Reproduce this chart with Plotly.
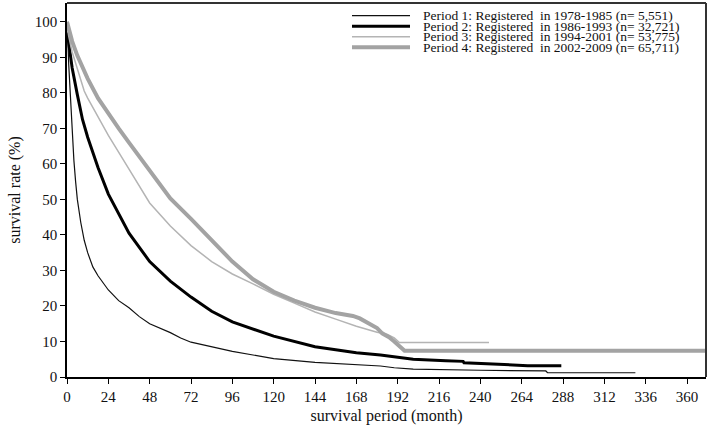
import plotly.graph_objects as go

# ---- data ----
p1_month = [0, 0.5, 1, 2, 2.5, 3, 4, 5, 6, 8, 10, 12, 15, 18, 24, 30, 36, 42, 48, 60, 66, 72, 84, 96, 108, 120, 144, 168, 182, 190, 201, 240, 278, 279, 330]
p1_rate = [97, 95, 88, 78, 72, 68, 61, 55, 50, 43.5, 38.5, 35, 31, 28.5, 24.5, 21.5, 19.5, 17, 15, 12.5, 11, 9.8, 8.5, 7.2, 6.2, 5.2, 4.1, 3.5, 3.1, 2.6, 2.2, 1.9, 1.7, 1.2, 1.2]

p2_month = [0, 0.5, 1, 3, 6, 9, 12, 18, 24, 36, 48, 60, 72, 84, 96, 108, 120, 144, 168, 182, 201, 220, 230, 230.5, 250, 250.5, 267, 267.5, 287]
p2_rate = [97, 96, 94, 87, 79.5, 72.5, 67.5, 59, 51.5, 40.5, 32.5, 27, 22.5, 18.5, 15.5, 13.5, 11.5, 8.5, 6.8, 6.2, 5.0, 4.6, 4.4, 4.0, 3.6, 3.5, 3.3, 3.2, 3.2]

p3_month = [0, 1, 3, 6, 10, 12, 20, 24, 36, 48, 60, 72, 84, 96, 108, 120, 132, 144, 156, 168, 180, 186, 190, 193, 245]
p3_rate = [99, 96, 91.5, 87, 80.5, 78.5, 71.5, 68, 58.5, 49, 42.5, 37, 32.5, 29, 26.2, 23.3, 20.8, 18.3, 16.3, 14.3, 12.6, 12, 11, 9.7, 9.7]

p4_month = [0, 1, 3, 6, 9, 12, 18, 24, 30, 36, 48, 54, 60, 72, 84, 96, 108, 120, 132, 144, 156, 166, 170, 175, 180, 183, 187, 190, 193, 196, 371]
p4_rate = [100, 98, 94.5, 90.5, 87, 84, 78.5, 74, 70, 66, 58, 54, 50.3, 44.5, 38.5, 32.5, 27.5, 24, 21.5, 19.5, 18, 17.2, 16.5, 15.3, 13.8, 12.3, 11.2, 10, 8.6, 7.4, 7.4]

series_names = [
    "Period 1: Registered  in 1978-1985 (n= 5,551)",
    "Period 2: Registered  in 1986-1993 (n= 32,721)",
    "Period 3: Registered  in 1994-2001 (n= 53,775)",
    "Period 4: Registered  in 2002-2009 (n= 65,711)",
]
series_colors = ["#111111", "#000000", "#b4b4b4", "#a3a3a3"]
series_widths = [1.2, 3, 1.5, 4]

x_ticks = list(range(0, 361, 24))
y_ticks = list(range(0, 101, 10))

FONT = "Liberation Serif"

fig = go.Figure()
data = [(p1_month, p1_rate), (p2_month, p2_rate), (p3_month, p3_rate), (p4_month, p4_rate)]
for (mx, ry), name, col, w in zip(data, series_names, series_colors, series_widths):
    fig.add_trace(go.Scatter(x=mx, y=ry, mode="lines", name=name,
                             line=dict(color=col, width=w), showlegend=False))

# plot-area pixel geometry
W, H = 709, 431
L, R, T, B = 67, 3, 3, 54
pw, ph = W - L - R, H - T - B

def px(x):
    return (x - L) / pw

def py(y):
    return (H - B - y) / ph

# custom legend (rows closer than plotly's legend allows)
rows_y = [15.7, 26.2, 36.7, 47.2]
shapes = []
annotations = []
for name, col, w, yy in zip(series_names, series_colors, series_widths, rows_y):
    shapes.append(dict(type="line", xref="paper", yref="paper",
                       x0=px(352), x1=px(410), y0=py(yy), y1=py(yy),
                       line=dict(color=col, width=w)))
    annotations.append(dict(xref="paper", yref="paper", x=px(421), y=py(yy),
                            text=name, showarrow=False, xanchor="left", yanchor="middle",
                            font=dict(family=FONT, size=13.5, color="#111111")))

# frame on top and right (dark grey)
shapes.append(dict(type="line", xref="paper", yref="paper", x0=0, x1=1, y0=1, y1=1,
                   line=dict(color="#333333", width=2), layer="above"))
shapes.append(dict(type="line", xref="paper", yref="paper", x0=1, x1=1, y0=0, y1=1,
                   line=dict(color="#333333", width=2), layer="above"))

fig.update_layout(
    width=W, height=H,
    margin=dict(l=L, r=R, t=T, b=B),
    paper_bgcolor="white", plot_bgcolor="white",
    font=dict(family=FONT, size=15, color="#111111"),
    shapes=shapes, annotations=annotations,
    xaxis=dict(range=[0, 371], tickvals=x_ticks, ticktext=[str(v) for v in x_ticks],
               showgrid=False, zeroline=False, showline=True, linecolor="black", linewidth=1.5,
               ticks="outside", ticklen=5, tickcolor="black", tickwidth=1,
               tickfont=dict(family=FONT, size=15),
               title=dict(text="survival period (month)", font=dict(family=FONT, size=16), standoff=6)),
    yaxis=dict(range=[0, 105.3], tickvals=y_ticks, ticktext=[str(v) for v in y_ticks],
               showgrid=False, zeroline=False, showline=True, linecolor="black", linewidth=1.5,
               ticks="outside", ticklen=5, tickcolor="black", tickwidth=1,
               tickfont=dict(family=FONT, size=15),
               title=dict(text="survival rate (%)", font=dict(family=FONT, size=16), standoff=10)),
)

fig.write_html("out.html", config={"displayModeBar": False},
               post_script="document.body.style.margin='0';")
